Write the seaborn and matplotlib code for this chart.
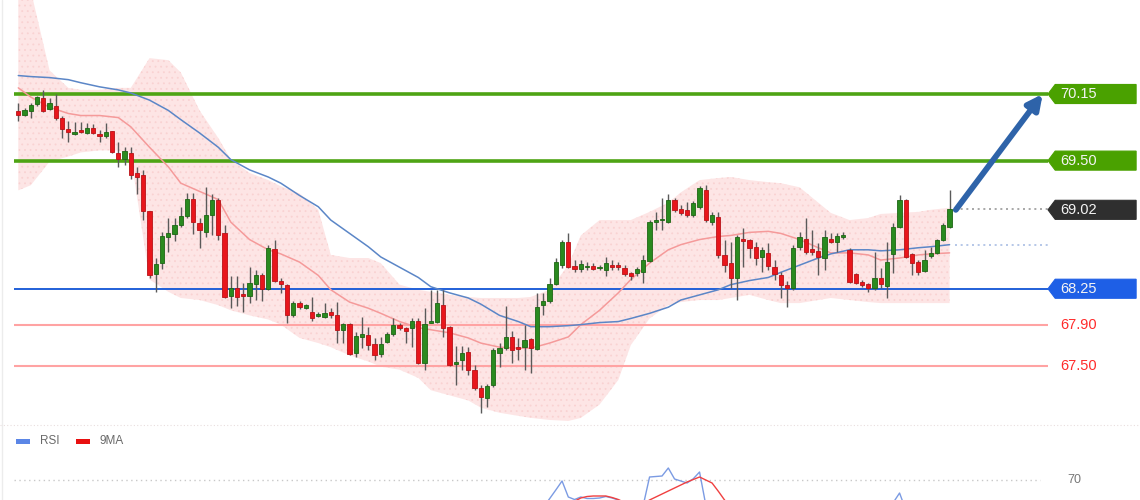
import numpy as np
import pandas as pd
import matplotlib
matplotlib.use("Agg")
import matplotlib.pyplot as plt
from matplotlib.patches import Polygon, Rectangle
from matplotlib.lines import Line2D
import seaborn as sns

# OHLC candles (150 bars)
opens = [69.98, 69.95, 69.98, 70.05, 70.11, 70.00, 70.03, 69.92, 69.81, 69.76,
         69.79, 69.77, 69.82, 69.76, 69.74, 69.79, 69.57, 69.52, 69.57, 69.38,
         69.36, 69.01, 68.39, 68.50, 68.75, 68.78, 68.87, 68.96, 69.13, 68.89,
         68.80, 68.97, 69.12, 68.79, 68.18, 68.26, 68.19, 68.18, 68.30, 68.38,
         68.25, 68.64, 68.33, 68.29, 67.99, 68.11, 68.06, 68.02, 67.98, 67.97,
         68.02, 67.99, 67.85, 67.91, 67.62, 67.78, 67.80, 67.71, 67.61, 67.73,
         67.81, 67.90, 67.87, 67.87, 67.94, 67.53, 67.92, 67.93, 68.09, 67.88,
         67.52, 67.55, 67.63, 67.46, 67.28, 67.18, 67.31, 67.62, 67.67, 67.78,
         67.68, 67.68, 67.76, 67.66, 68.09, 68.13, 68.30, 68.48, 68.71, 68.47,
         68.44, 68.46, 68.47, 68.45, 68.43, 68.48, 68.48, 68.45, 68.40, 68.40,
         68.41, 68.52, 68.90, 68.92, 68.90, 69.12, 69.03, 69.02, 68.97, 69.05,
         69.21, 68.90, 68.95, 68.58, 68.50, 68.35, 68.74, 68.73, 68.66, 68.56,
         68.60, 68.46, 68.38, 68.29, 68.26, 68.66, 68.74, 68.64, 68.62, 68.55,
         68.74, 68.71, 68.75, 68.63, 68.39, 68.32, 68.30, 68.26, 68.35, 68.28,
         68.59, 68.85, 69.12, 68.59, 68.51, 68.42, 68.57, 68.60, 68.73, 68.85]
closes = [69.95, 69.99, 70.04, 70.12, 69.98, 70.06, 69.92, 69.81, 69.78, 69.78,
          69.78, 69.82, 69.77, 69.74, 69.78, 69.58, 69.52, 69.59, 69.36, 69.34,
          69.01, 68.38, 68.49, 68.76, 68.79, 68.87, 68.96, 69.13, 68.90, 68.82,
          68.97, 69.12, 68.77, 68.17, 68.26, 68.17, 68.18, 68.31, 68.38, 68.25,
          68.65, 68.33, 68.30, 67.99, 68.11, 68.07, 68.09, 67.96, 68.00, 68.01,
          67.99, 67.85, 67.91, 67.61, 67.79, 67.81, 67.70, 67.60, 67.71, 67.81,
          67.90, 67.87, 67.84, 67.94, 67.53, 67.91, 67.93, 68.11, 67.87, 67.51,
          67.54, 67.62, 67.46, 67.28, 67.19, 67.30, 67.65, 67.67, 67.78, 67.65,
          67.66, 67.75, 67.67, 68.07, 68.13, 68.30, 68.51, 68.71, 68.46, 68.44,
          68.49, 68.47, 68.44, 68.46, 68.50, 68.46, 68.46, 68.39, 68.37, 68.44,
          68.53, 68.90, 68.92, 68.93, 69.12, 69.02, 68.99, 68.97, 69.09, 69.23,
          68.92, 68.97, 68.58, 68.48, 68.35, 68.75, 68.72, 68.65, 68.55, 68.63,
          68.47, 68.39, 68.29, 68.26, 68.65, 68.75, 68.61, 68.61, 68.56, 68.75,
          68.71, 68.76, 68.77, 68.32, 68.31, 68.29, 68.26, 68.35, 68.30, 68.51,
          68.85, 69.12, 68.56, 68.50, 68.41, 68.53, 68.60, 68.73, 68.87, 69.03]
highs = [70.06, 70.01, 70.06, 70.13, 70.19, 70.11, 70.15, 69.94, 69.89, 69.88,
         69.88, 69.87, 69.86, 69.80, 69.87, 69.79, 69.68, 69.63, 69.63, 69.44,
         69.41, 69.01, 68.55, 68.80, 68.94, 68.94, 69.05, 69.18, 69.18, 68.94,
         69.24, 69.17, 69.14, 68.87, 68.37, 68.37, 68.31, 68.46, 68.43, 68.40,
         68.68, 68.73, 68.35, 68.30, 68.13, 68.13, 68.10, 68.17, 68.02, 68.11,
         68.06, 68.12, 67.92, 67.92, 67.83, 67.97, 67.88, 67.77, 67.78, 67.83,
         67.96, 67.92, 67.88, 67.96, 67.96, 68.06, 68.24, 68.24, 68.24, 67.89,
         67.69, 67.69, 67.68, 67.51, 67.31, 67.32, 67.67, 67.72, 68.08, 67.84,
         67.77, 67.90, 67.77, 68.21, 68.21, 68.35, 68.55, 68.73, 68.79, 68.53,
         68.53, 68.51, 68.50, 68.48, 68.56, 68.53, 68.51, 68.48, 68.41, 68.46,
         68.58, 68.92, 69.00, 69.14, 69.17, 69.14, 69.07, 69.10, 69.11, 69.25,
         69.26, 69.00, 69.00, 68.73, 68.71, 68.77, 68.84, 68.74, 68.71, 68.66,
         68.70, 68.53, 68.41, 68.33, 68.68, 68.80, 68.94, 68.82, 68.70, 68.82,
         68.79, 68.79, 68.80, 68.65, 68.40, 68.34, 68.31, 68.61, 68.45, 68.71,
         68.89, 69.16, 69.13, 68.60, 68.53, 68.63, 68.66, 68.74, 68.89, 69.21]
lows = [69.89, 69.94, 69.92, 70.03, 69.97, 69.99, 69.90, 69.72, 69.68, 69.75,
        69.77, 69.76, 69.76, 69.68, 69.72, 69.57, 69.44, 69.46, 69.32, 69.17,
        68.92, 68.35, 68.22, 68.44, 68.61, 68.72, 68.85, 68.94, 68.78, 68.65,
        68.75, 68.77, 68.73, 68.16, 68.06, 68.08, 68.02, 68.11, 68.14, 68.13,
        68.24, 68.32, 68.21, 67.92, 67.97, 68.05, 68.05, 67.94, 67.97, 67.96,
        67.96, 67.72, 67.72, 67.60, 67.58, 67.67, 67.65, 67.55, 67.58, 67.72,
        67.79, 67.85, 67.72, 67.68, 67.52, 67.46, 67.92, 67.92, 67.78, 67.50,
        67.31, 67.46, 67.41, 67.26, 67.04, 67.10, 67.29, 67.49, 67.65, 67.53,
        67.55, 67.46, 67.43, 67.65, 67.99, 68.11, 68.29, 68.45, 68.45, 68.41,
        68.41, 68.43, 68.43, 68.43, 68.37, 68.43, 68.43, 68.37, 68.34, 68.37,
        68.31, 68.51, 68.82, 68.82, 68.89, 69.00, 68.97, 68.95, 68.95, 69.03,
        68.90, 68.87, 68.55, 68.41, 68.26, 68.14, 68.46, 68.55, 68.48, 68.41,
        68.43, 68.34, 68.16, 68.07, 68.24, 68.63, 68.59, 68.58, 68.38, 68.43,
        68.70, 68.61, 68.74, 68.31, 68.30, 68.27, 68.22, 68.24, 68.26, 68.16,
        68.40, 68.84, 68.55, 68.38, 68.38, 68.41, 68.55, 68.59, 68.72, 68.84]

# indicator lines sampled at these bar positions
ind_idx = [1, 3, 6, 9, 11, 14, 17, 19, 22, 25, 27, 30, 33, 35, 38, 41, 43, 46, 49, 51,
           54, 57, 59, 62, 65, 67, 70, 73, 75, 78, 81, 83, 86, 89, 91, 94, 97, 99, 102, 105,
           107, 110, 113, 115, 118, 121, 123, 126, 129, 131, 134, 137, 139, 142, 145, 147, 150]
ma_fast = [70.21, 70.12, 70.02, 69.96, 69.94, 69.94, 69.92, 69.83, 69.63, 69.44,
           69.28, 69.20, 69.12, 68.90, 68.73, 68.63, 68.59, 68.51, 68.38, 68.24,
           68.12, 68.06, 68.01, 67.93, 67.87, 67.85, 67.82, 67.77, 67.72, 67.68,
           67.67, 67.67, 67.72, 67.78, 67.90, 68.04, 68.21, 68.34, 68.50, 68.63,
           68.68, 68.73, 68.76, 68.77, 68.80, 68.81, 68.79, 68.73, 68.65, 68.60,
           68.60, 68.58, 68.53, 68.55, 68.58, 68.59, 68.60]
ma_slow = [70.33, 70.32, 70.31, 70.29, 70.26, 70.22, 70.19, 70.16, 70.09, 69.99,
           69.90, 69.77, 69.63, 69.51, 69.41, 69.34, 69.28, 69.16, 69.05, 68.92,
           68.79, 68.66, 68.56, 68.46, 68.36, 68.27, 68.21, 68.16, 68.10, 67.99,
           67.93, 67.88, 67.88, 67.89, 67.90, 67.92, 67.93, 67.96, 68.01, 68.07,
           68.14, 68.19, 68.24, 68.29, 68.33, 68.36, 68.41, 68.48, 68.55, 68.59,
           68.63, 68.63, 68.62, 68.63, 68.65, 68.66, 68.68]
band_up = [71.16, 71.16, 70.38, 70.21, 70.19, 70.19, 70.21, 70.21, 70.50, 70.48,
           70.36, 69.99, 69.72, 69.51, 69.38, 69.31, 69.25, 69.18, 69.02, 68.58,
           68.55, 68.55, 68.50, 68.29, 68.24, 68.22, 68.19, 68.17, 68.16, 68.16,
           68.16, 68.17, 68.24, 68.48, 68.77, 68.92, 68.92, 68.92, 69.00, 69.09,
           69.19, 69.31, 69.33, 69.34, 69.31, 69.29, 69.28, 69.24, 69.09, 68.99,
           68.92, 68.94, 68.98, 68.99, 69.00, 69.02, 69.04]
band_lo = [69.21, 69.26, 69.49, 69.54, 69.58, 69.60, 69.60, 69.55, 68.34, 68.22,
           68.16, 68.14, 68.09, 68.04, 67.99, 67.95, 67.90, 67.77, 67.72, 67.68,
           67.60, 67.54, 67.49, 67.46, 67.38, 67.26, 67.21, 67.16, 67.09, 67.04,
           67.01, 66.99, 66.97, 66.96, 66.99, 67.12, 67.36, 67.70, 67.96, 68.09,
           68.12, 68.14, 68.14, 68.16, 68.19, 68.14, 68.11, 68.11, 68.14, 68.16,
           68.14, 68.12, 68.11, 68.11, 68.11, 68.11, 68.11]

# RSI panel (only the part above the crop is visible)
rsi_idx_a = list(range(83, 114))
rsi_a = [55, 58, 59, 62.5, 66, 69.6, 63.2, 62.2, 63.2, 62.6, 62.6, 62.8, 63.4, 62.8, 62.0,
         60, 58, 57.5, 60, 71.2, 71.4, 71.6, 74.8, 70.4, 69.6, 68.8, 70.5, 73.2, 60, 57, 52]
rsi_idx_b = [140, 141, 142, 143, 144]
rsi_b = [55, 61, 64.8, 58, 55]
rsi_ma_idx = list(range(89, 116))
rsi_ma = [60, 61.5, 62.8, 63.4, 63.6, 63.6, 63.6, 63.0, 62.2, 61, 60, 59.5, 60.5, 62,
          63.2, 64.4, 65.6, 66.8, 68, 69.2, 70.2, 71.2, 70, 68.8, 65.5, 62, 59]

levels = [70.15, 69.50, 68.25, 67.90, 67.50]
level_colors = ['#4ea414', '#4ea414', '#2160d8', '#ffa3a3', '#ffa3a3']
level_widths = [2.6, 2.6, 1.4, 1.5, 1.5]
boxed = [(70.15, '#4aa100'), (69.50, '#4aa100'), (69.02, '#2f2f2f'), (68.25, '#1e5fe6')]
plain = [67.90, 67.50]

sns.set_style("white")
plt.rcParams['font.family'] = ['Liberation Sans', 'DejaVu Sans']
plt.rcParams['hatch.linewidth'] = 0.6

W, H = 1140, 500
fig = plt.figure(figsize=(W / 100, H / 100), dpi=100)
xlim = (-1.928, 180.47)

ax = fig.add_axes([0, 75 / H, 1, 425 / H])
ax.set_xlim(*xlim)
ax.set_ylim(66.9207, 71.0671)
ax.axis('off')

# bollinger style band
ax.fill_between(ind_idx, band_lo, band_up, facecolor='#fde5e5', edgecolor='#f9d2d2',
                hatch='...', linewidth=0, zorder=1)

# horizontal levels
x0, x1 = 0.31, 165.75
for lv, c, w in zip(levels, level_colors, level_widths):
    ax.hlines(lv, x0, x1, color=c, lw=w, zorder=2)

# moving averages
sns.lineplot(x=ind_idx, y=ma_fast, ax=ax, color='#f59a9a', lw=1.1, zorder=3, sort=False)
sns.lineplot(x=ind_idx, y=ma_slow, ax=ax, color='#5b86c7', lw=1.1, zorder=3, sort=False)

# candles
n = np.arange(1, len(opens) + 1)
o = np.array(opens); c = np.array(closes)
up = c >= o
ax.vlines(n, lows, highs, color='#5a5a5a', lw=1, zorder=4)
body_lo = np.minimum(o, c)
body_h = np.maximum(np.abs(c - o), 0.015)
ax.bar(n[up], body_h[up], bottom=body_lo[up], width=0.68, color='#2a8a1f',
       edgecolor='#1d6614', lw=0.6, zorder=5)
ax.bar(n[~up], body_h[~up], bottom=body_lo[~up], width=0.68, color='#e8161c',
       edgecolor='#b81217', lw=0.6, zorder=5)

# dotted guides from last bar
ax.hlines(closes[-1], 150.9, x1, color='#9a9a9a', lw=1.2, linestyles=(0, (1.2, 2.2)), zorder=2)
ax.hlines(ma_slow[-1], 150.9, x1, color='#a9bde4', lw=1.2, linestyles=(0, (1.2, 2.2)), zorder=2)

# target arrow
ax.annotate('', xy=(164.9, 70.15), xytext=(151.0, 69.02),
            arrowprops=dict(arrowstyle='-|>', lw=4.2, color='#2e63a9',
                            mutation_scale=22, shrinkA=0, shrinkB=0), zorder=6)

# price tags
hh = 0.093
for lv, col in boxed:
    pts = [(165.75, lv), (166.9, lv + hh), (179.85, lv + hh), (179.85, lv - hh), (166.9, lv - hh)]
    ax.add_patch(Polygon(pts, closed=True, facecolor=col, edgecolor=col, lw=0.8, zorder=6))
    ax.text(167.75, lv, f'{lv:.2f}', color='#f4f4f4', fontsize=10.5, va='center', ha='left', zorder=7)
for lv in plain:
    ax.text(167.75, lv, f'{lv:.2f}', color='#ff2b2b', fontsize=10.5, va='center', ha='left', zorder=7)

# panel separator
fig.add_artist(Line2D([0, 1], [1 - 425 / H, 1 - 425 / H], transform=fig.transFigure,
                      color='#e9dede', lw=0.8, linestyle=(0, (1, 2))))
fig.add_artist(Line2D([1.5 / W, 1.5 / W], [0, 1], transform=fig.transFigure, color='#ececec', lw=1))

# RSI panel
rx = fig.add_axes([0, 0, 1, 70 / H])
rx.set_xlim(*xlim)
rx.set_ylim(62, 90)
rx.axis('off')
rx.hlines(70, 0.31, 164.5, color='#c8c8c8', lw=1, linestyles=(0, (1, 2.5)))
sns.lineplot(x=rsi_idx_a, y=rsi_a, ax=rx, color='#7b9be3', lw=1, sort=False)
sns.lineplot(x=rsi_idx_b, y=rsi_b, ax=rx, color='#7b9be3', lw=1, sort=False)
sns.lineplot(x=rsi_ma_idx, y=rsi_ma, ax=rx, color='#f04040', lw=1, sort=False)
rx.text(168.9, 70, '70', color='#777777', fontsize=9, va='center', ha='left')

# legend
for (lx, col, lab, tx) in [(16, '#5b86e6', 'RSI', 40), (76, '#e81010', '9MA', 100)]:
    fig.add_artist(Rectangle((lx / W, 1 - 444 / H), 14 / W, 5 / H, transform=fig.transFigure,
                             facecolor=col, edgecolor='none'))
    fig.text(tx / W, 1 - 441 / H, lab, color='#6a6a6a', fontsize=8.5, va='center', ha='left')

fig.savefig('out.png', dpi=100)
